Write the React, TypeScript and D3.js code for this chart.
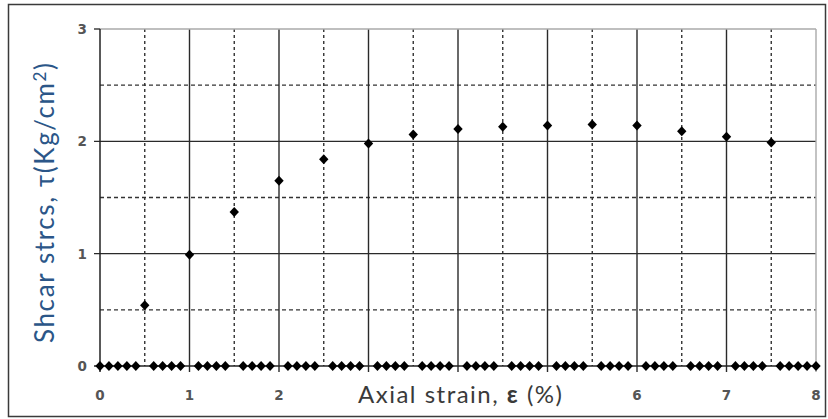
import * as d3 from "d3";

// measured strain (%) / shear stress (kg/cm²)
const strainPts = [0.5, 1, 1.5, 2, 2.5, 3, 3.5, 4, 4.5, 5, 5.5, 6, 6.5, 7, 7.5];
const stressPts = [0.54, 0.99, 1.37, 1.65, 1.84, 1.98, 2.06, 2.11, 2.13, 2.14, 2.15, 2.14, 2.09, 2.04, 1.99];

// baseline readings sitting on zero
const zeroStrain = [
  0, 0.1, 0.2, 0.3, 0.4, 0.6, 0.7, 0.8, 0.9,
  1.1, 1.2, 1.3, 1.4, 1.6, 1.7, 1.8, 1.9,
  2.1, 2.2, 2.3, 2.4, 2.6, 2.7, 2.8, 2.9,
  3.1, 3.2, 3.3, 3.4, 3.6, 3.7, 3.8, 3.9,
  4.1, 4.2, 4.3, 4.4, 4.6, 4.7, 4.8, 4.9,
  5.1, 5.2, 5.3, 5.4, 5.6, 5.7, 5.8, 5.9,
  6.1, 6.2, 6.3, 6.4, 6.6, 6.7, 6.8, 6.9,
  7.1, 7.2, 7.3, 7.4, 7.6, 7.7, 7.8, 7.9, 8,
];

const xTicks = [0, 1, 2, 3, 4, 5, 6, 7, 8];
const xMinor = [0.5, 1.5, 2.5, 3.5, 4.5, 5.5, 6.5, 7.5];
const yTicks = [0, 1, 2, 3];
const yMinor = [0.5, 1.5, 2.5];

const W = 828;
const H = 419;

const diamond = "M0,-5L4.7,0L0,5L-4.7,0Z";

// white box behind the x title; tick labels under it are hidden
const titleBox = { x: 350, y: 374, w: 222, h: 40 };

export default function App() {
  const x = d3.scaleLinear().domain([0, 8]).range([100, 816]);
  const y = d3.scaleLinear().domain([0, 3]).range([366, 29]);

  const visibleXTicks = xTicks.filter((v) => x(v) < titleBox.x || x(v) > titleBox.x + titleBox.w);

  return (
    <svg
      width={W}
      height={H}
      style={{ position: "absolute", left: 0, top: 0, background: "#fff" }}
    >
      <rect x={8.5} y={4.5} width={817} height={412} fill="#fff" stroke="#3a3a3a" strokeWidth={1.5} />

      {/* minor dashed grid */}
      {xMinor.map((v) => (
        <line key={"xm" + v} x1={x(v)} x2={x(v)} y1={y(3)} y2={y(0)} stroke="#333" strokeWidth={1.4} strokeDasharray="3,3" />
      ))}
      {yMinor.map((v) => (
        <line key={"ym" + v} x1={x(0)} x2={x(8)} y1={y(v)} y2={y(v)} stroke="#333" strokeWidth={1.4} strokeDasharray="4,3" />
      ))}

      {/* major grid */}
      {xTicks.slice(1, -1).map((v) => (
        <line key={"xg" + v} x1={x(v)} x2={x(v)} y1={y(3)} y2={y(0) + 6} stroke="#2a2a2a" strokeWidth={1.4} />
      ))}
      {yTicks.slice(1, -1).map((v) => (
        <line key={"yg" + v} x1={x(0) - 6} x2={x(8)} y1={y(v)} y2={y(v)} stroke="#2a2a2a" strokeWidth={1.4} />
      ))}
      <line x1={x(0)} x2={x(8)} y1={y(3)} y2={y(3)} stroke="#aaa" strokeWidth={1.4} />
      <line x1={x(8)} x2={x(8)} y1={y(3)} y2={y(0) + 6} stroke="#aaa" strokeWidth={1.4} />
      <line x1={x(0) - 6} x2={x(0)} y1={y(3)} y2={y(3)} stroke="#333" strokeWidth={1.4} />
      <line x1={x(0)} x2={x(0)} y1={y(3)} y2={y(0) + 6} stroke="#222" strokeWidth={1.5} />
      <line x1={x(0) - 6} x2={x(8)} y1={y(0)} y2={y(0)} stroke="#222" strokeWidth={1.5} />

      {/* tick labels */}
      {yTicks.map((v) => (
        <text key={"yl" + v} x={87} y={y(v)} dy="0.36em" textAnchor="end" fontFamily="DejaVu Sans" fontSize={13.5} fontWeight="bold" fill="#555">
          {v}
        </text>
      ))}
      {visibleXTicks.map((v) => (
        <text key={"xl" + v} x={x(v)} y={400} textAnchor="middle" fontFamily="DejaVu Sans" fontSize={13.5} fontWeight="bold" fill="#555">
          {v}
        </text>
      ))}

      {/* markers */}
      {zeroStrain.map((v, i) => (
        <path key={"z" + i} d={diamond} transform={`translate(${x(v)},${y(0)})`} fill="#000" />
      ))}
      {strainPts.map((v, i) => (
        <path key={"p" + i} d={diamond} transform={`translate(${x(v)},${y(stressPts[i])})`} fill="#000" />
      ))}

      {/* axis titles */}
      <rect x={titleBox.x} y={titleBox.y} width={titleBox.w} height={titleBox.h} fill="#fff" />
      <text x={358} y={403} fontFamily="Lato" fontSize={24} fill="#3a3a3a" textLength={204} lengthAdjust="spacing">
        Axial strain, <tspan fontWeight="bold">ε</tspan> (%)
      </text>
      <text
        transform={`translate(54,343) rotate(-90)`}
        fontFamily="Lato"
        fontSize={26}
        fill="#2b5688"
        textLength={280}
        lengthAdjust="spacing"
      >
        Shcar strcs, τ(Kg/cm<tspan dy="-8" fontSize={17}>2</tspan>
        <tspan dy="8">)</tspan>
      </text>
    </svg>
  );
}
